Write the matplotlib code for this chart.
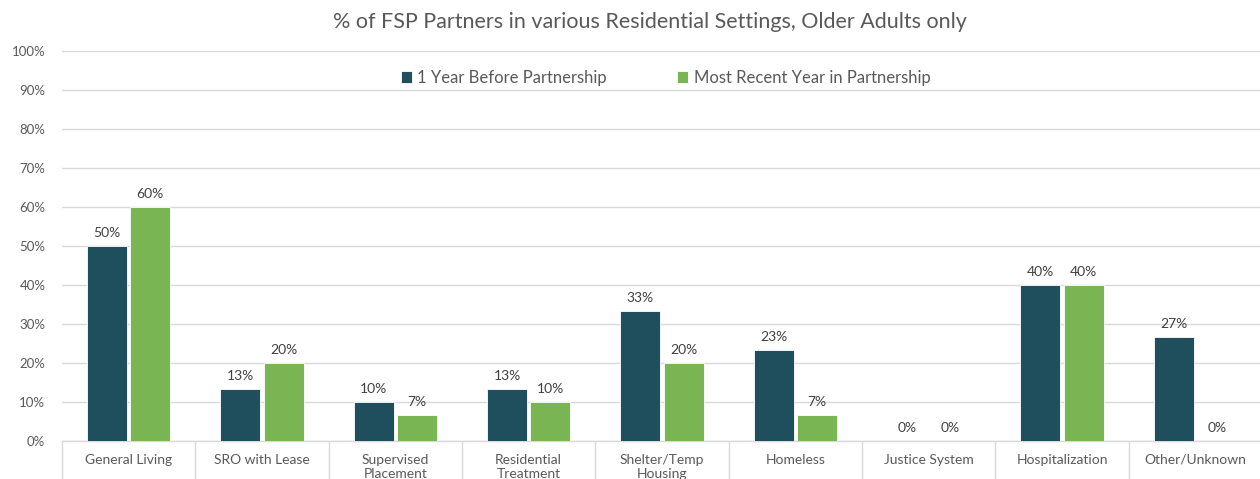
import numpy as np
import matplotlib
matplotlib.use("Agg")
import matplotlib.pyplot as plt
from matplotlib.ticker import FuncFormatter, MultipleLocator

# Chart data
categories = [
    "General Living", "SRO with Lease", "Supervised\nPlacement",
    "Residential\nTreatment", "Shelter/Temp\nHousing", "Homeless",
    "Justice System", "Hospitalization", "Other/Unknown",
]
before_pct = [50.0, 13.3, 10.0, 13.3, 33.3, 23.3, 0.0, 40.0, 26.7]
recent_pct = [60.0, 20.0, 6.7, 10.0, 20.0, 6.7, 0.0, 40.0, 0.0]
series_names = ["1 Year Before Partnership", "Most Recent Year in Partnership"]
title = "% of FSP Partners in various Residential Settings, Older Adults only"

DARK = "#1F4E5C"
GREEN = "#7AB554"
GRAY_TXT = "#595959"
GRID = "#D9D9D9"

plt.rcParams["font.family"] = ["Lato", "DejaVu Sans"]

fig = plt.figure(figsize=(12.6, 4.79), dpi=100)
ax = fig.add_axes([62 / 1260, 38 / 479, 1200 / 1260, 390 / 479])

x = np.arange(len(categories))
width = 0.30
gap = 0.012
b1 = ax.bar(x - width / 2 - gap, before_pct, width, color=DARK,
            edgecolor="white", linewidth=0.6, label=series_names[0], zorder=3)
b2 = ax.bar(x + width / 2 + gap, recent_pct, width, color=GREEN,
            edgecolor="white", linewidth=0.6, label=series_names[1], zorder=3)

for bars in (b1, b2):
    for rect in bars:
        h = rect.get_height()
        ax.annotate(f"{h:.0f}%", (rect.get_x() + rect.get_width() / 2, h),
                    xytext=(0, 5), textcoords="offset points",
                    ha="center", va="bottom", fontsize=10, color="#404040")

ax.set_xlim(-0.5, len(categories) - 0.5)
ax.set_ylim(0, 100)
ax.yaxis.set_major_locator(MultipleLocator(10))
ax.yaxis.set_major_formatter(FuncFormatter(lambda v, _: f"{v:.0f}%"))
ax.grid(axis="y", color=GRID, linewidth=1.0, zorder=0)

for s in ("top", "right", "left"):
    ax.spines[s].set_visible(False)
ax.spines["bottom"].set_color(GRID)
ax.spines["bottom"].set_linewidth(1.0)

ax.tick_params(axis="y", length=0, labelsize=9.5, labelcolor=GRAY_TXT, pad=12)
ax.set_xticks(x)
ax.set_xticklabels(categories, fontsize=10, color=GRAY_TXT, linespacing=1.25)
ax.tick_params(axis="x", which="major", length=0, pad=9)
ax.set_xticks(np.arange(len(categories) + 1) - 0.5, minor=True)
ax.tick_params(axis="x", which="minor", length=30, color=GRID, width=1.0)

ax.legend(loc="upper center", bbox_to_anchor=(0.503, 0.99), ncol=2, frameon=False,
          fontsize=12, handlelength=0.65, handleheight=0.65, handletextpad=0.35,
          columnspacing=4.2, labelcolor=GRAY_TXT)

fig.text(650 / 1260, 1 - 22 / 479, title, ha="center", va="center",
         fontsize=15.5, color=GRAY_TXT)

fig.savefig("out.png", dpi=100)
